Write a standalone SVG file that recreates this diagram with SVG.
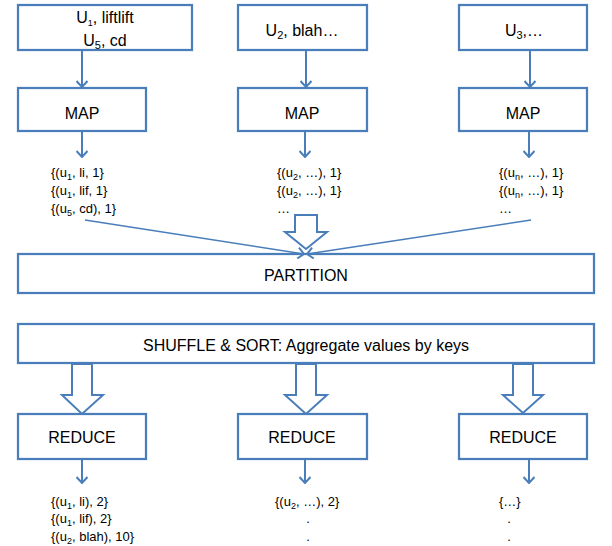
<svg xmlns="http://www.w3.org/2000/svg" width="612" height="546" viewBox="0 0 612 546">
<style>
.box{fill:#fff;stroke:#4a7ebb;stroke-width:2.25}
.big{font-family:"Liberation Sans",Arial,sans-serif;font-size:16px;fill:#000;text-anchor:middle}
.sm{font-family:"Liberation Sans",Arial,sans-serif;font-size:13px;fill:#000}
.sub{font-size:9px}
.ln{fill:none;stroke:#4a7ebb;stroke-width:2}
.dg{fill:none;stroke:#4a7ebb;stroke-width:1.6}
.hollow{fill:#fff;stroke:#4a7ebb;stroke-width:2;stroke-linejoin:miter}
</style>
<defs>
<marker id="ah" viewBox="0 0 12 12" refX="11" refY="6" markerWidth="12" markerHeight="12" markerUnits="userSpaceOnUse" orient="auto">
<path d="M5,0.5 L11,6 L5,11.5" fill="none" stroke="#4a7ebb" stroke-width="2"/>
</marker>
</defs>
<rect width="612" height="546" fill="#fff"/>

<g id="input1"><rect class="box" x="18" y="5" width="174" height="45"/>
<text class="big" x="105" y="23">U<tspan class="sub" font-size="11" dy="3">1</tspan><tspan dy="-3">, liftlift</tspan></text>
<text class="big" x="105" y="46">U<tspan font-size="11" dy="3">5</tspan><tspan dy="-3">, cd</tspan></text></g>
<g id="input2"><rect class="box" x="238" y="5" width="129" height="45"/>
<text class="big" x="302" y="36">U<tspan font-size="11" dy="3">2</tspan><tspan dy="-3">, blah…</tspan></text></g>
<g id="input3"><rect class="box" x="459" y="5" width="128" height="45"/>
<text class="big" x="524" y="36">U<tspan font-size="11" dy="3">3</tspan><tspan dy="-3">,…</tspan></text></g>

<g id="map1"><rect class="box" x="18" y="88" width="128" height="43"/><text class="big" x="82" y="119">MAP</text></g>
<g id="map2"><rect class="box" x="238" y="88" width="129" height="43"/><text class="big" x="302" y="119">MAP</text></g>
<g id="map3"><rect class="box" x="459" y="88" width="128" height="43"/><text class="big" x="523" y="119">MAP</text></g>

<g id="mapout1" class="sm">
<text x="51" y="177">{(u<tspan class="sub" dy="3">1</tspan><tspan dy="-3">, li, 1}</tspan></text>
<text x="51" y="195">{(u<tspan class="sub" dy="3">1</tspan><tspan dy="-3">, lif, 1}</tspan></text>
<text x="51" y="213">{(u<tspan class="sub" dy="3">5</tspan><tspan dy="-3">, cd), 1}</tspan></text>
</g>
<g id="mapout2" class="sm">
<text x="277" y="177">{(u<tspan class="sub" dy="3">2</tspan><tspan dy="-3">, …), 1}</tspan></text>
<text x="277" y="195">{(u<tspan class="sub" dy="3">2</tspan><tspan dy="-3">, …), 1}</tspan></text>
<text x="277" y="213">…</text>
</g>
<g id="mapout3" class="sm">
<text x="499" y="177">{(u<tspan class="sub" dy="3">n</tspan><tspan dy="-3">, …), 1}</tspan></text>
<text x="499" y="195">{(u<tspan class="sub" dy="3">n</tspan><tspan dy="-3">, …), 1}</tspan></text>
<text x="499" y="213">…</text>
</g>

<g id="partition"><rect class="box" x="18" y="254" width="576" height="39"/><text class="big" x="306" y="281">PARTITION</text></g>
<g id="shuffle"><rect class="box" x="18" y="324" width="576" height="39"/><text class="big" x="306" y="351">SHUFFLE &amp; SORT: Aggregate values by keys</text></g>

<g id="connectors">
<line class="ln" x1="82" y1="51" x2="82" y2="87" marker-end="url(#ah)"/>
<line class="ln" x1="306" y1="51" x2="306" y2="87" marker-end="url(#ah)"/>
<line class="ln" x1="530" y1="51" x2="530" y2="87" marker-end="url(#ah)"/>
<line class="ln" x1="82" y1="132" x2="82" y2="157" marker-end="url(#ah)"/>
<line class="ln" x1="305" y1="132" x2="305" y2="157" marker-end="url(#ah)"/>
<line class="ln" x1="529" y1="132" x2="529" y2="157" marker-end="url(#ah)"/>
<line class="dg" x1="85" y1="220" x2="304" y2="254" marker-end="url(#ah)"/>
<line class="dg" x1="531" y1="220" x2="307" y2="254" marker-end="url(#ah)"/>
<polygon class="hollow" points="295,215 317,215 317,232 327,232 306,249 285,232 295,232"/>
<polygon class="hollow" points="72,364 92,364 92,395 103,395 82,414 62,395 72,395"/>
<polygon class="hollow" points="296,364 316,364 316,395 327,395 306,414 285,395 296,395"/>
<polygon class="hollow" points="513,364 533,364 533,395 543,395 523,413 503,395 513,395"/>
<line class="ln" x1="82" y1="460" x2="82" y2="483" marker-end="url(#ah)"/>
<line class="ln" x1="305" y1="460" x2="305" y2="483" marker-end="url(#ah)"/>
<line class="ln" x1="529" y1="460" x2="529" y2="483" marker-end="url(#ah)"/>
</g>

<g id="reduce1"><rect class="box" x="18" y="414" width="128" height="45"/><text class="big" x="82" y="443">REDUCE</text></g>
<g id="reduce2"><rect class="box" x="238" y="414" width="129" height="45"/><text class="big" x="302" y="443">REDUCE</text></g>
<g id="reduce3"><rect class="box" x="459" y="414" width="128" height="45"/><text class="big" x="523" y="443">REDUCE</text></g>

<g id="redout1" class="sm">
<text x="51" y="506">{(u<tspan class="sub" dy="3">1</tspan><tspan dy="-3">, li), 2}</tspan></text>
<text x="51" y="523">{(u<tspan class="sub" dy="3">1</tspan><tspan dy="-3">, lif), 2}</tspan></text>
<text x="51" y="541">{(u<tspan class="sub" dy="3">2</tspan><tspan dy="-3">, blah), 10}</tspan></text>
</g>
<g id="redout2" class="sm">
<text x="275" y="506">{(u<tspan class="sub" dy="3">2</tspan><tspan dy="-3">, …), 2}</tspan></text>
<text x="308" y="523" text-anchor="middle">.</text>
<text x="308" y="541" text-anchor="middle">.</text>
</g>
<g id="redout3" class="sm">
<text x="499" y="506">{…}</text>
<text x="509" y="523" text-anchor="middle">.</text>
<text x="509" y="541" text-anchor="middle">.</text>
</g>
</svg>
